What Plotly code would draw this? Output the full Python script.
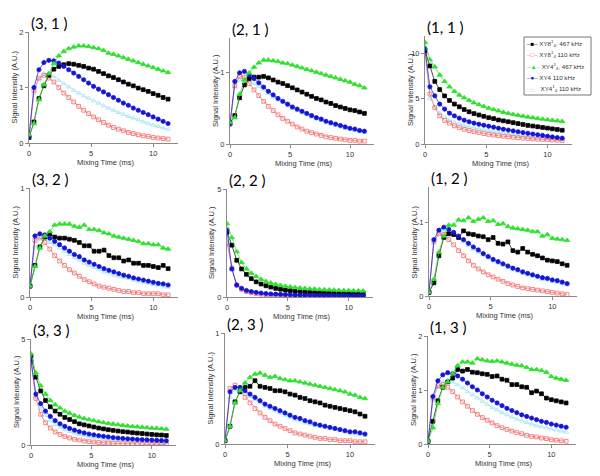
import plotly.graph_objects as go

# mixing time axis (ms)
mix_ms = [0, 0.4, 0.8, 1.2, 1.6, 2.0, 2.4, 2.8, 3.2, 3.6, 4.0, 4.4, 4.8, 5.2, 5.6,
          6.0, 6.4, 6.8, 7.2, 7.6, 8.0, 8.4, 8.8, 9.2, 9.6, 10.0, 10.4, 10.8, 11.2]

# panel (3,1)
k31 = [0.10, 0.38, 0.80, 1.03, 1.22, 1.33, 1.38, 1.41, 1.43, 1.42, 1.40, 1.38, 1.35, 1.33, 1.29, 1.25, 1.21, 1.18, 1.14, 1.10, 1.06, 1.03, 0.99, 0.96, 0.93, 0.89, 0.86, 0.82, 0.79]
r31 = [0.10, 0.95, 1.17, 1.22, 1.17, 1.10, 1.00, 0.90, 0.82, 0.74, 0.66, 0.59, 0.53, 0.47, 0.42, 0.37, 0.32, 0.28, 0.25, 0.22, 0.19, 0.17, 0.15, 0.13, 0.12, 0.10, 0.09, 0.08, 0.07]
g31 = [0.15, 0.35, 0.78, 1.05, 1.25, 1.43, 1.57, 1.65, 1.70, 1.73, 1.75, 1.75, 1.74, 1.72, 1.70, 1.67, 1.62, 1.60, 1.57, 1.54, 1.51, 1.48, 1.45, 1.42, 1.39, 1.36, 1.33, 1.30, 1.27]
b31 = [0.12, 1.00, 1.32, 1.45, 1.49, 1.48, 1.44, 1.38, 1.32, 1.26, 1.20, 1.14, 1.08, 1.02, 0.97, 0.92, 0.87, 0.82, 0.77, 0.72, 0.68, 0.63, 0.59, 0.55, 0.51, 0.47, 0.43, 0.39, 0.35]
c31 = [0.12, 0.90, 1.15, 1.25, 1.25, 1.20, 1.13, 1.07, 1.01, 0.95, 0.90, 0.85, 0.81, 0.76, 0.72, 0.67, 0.63, 0.59, 0.55, 0.52, 0.48, 0.45, 0.42, 0.38, 0.35, 0.32, 0.30, 0.27, 0.25]

# panel (2,1)
k21 = [0.30, 0.40, 0.65, 0.83, 0.92, 0.94, 0.94, 0.95, 0.93, 0.90, 0.87, 0.85, 0.82, 0.79, 0.76, 0.73, 0.70, 0.67, 0.64, 0.62, 0.59, 0.57, 0.54, 0.52, 0.50, 0.48, 0.47, 0.45, 0.43]
r21 = [0.28, 0.82, 0.95, 0.94, 0.85, 0.76, 0.68, 0.60, 0.53, 0.47, 0.41, 0.36, 0.32, 0.28, 0.24, 0.21, 0.18, 0.16, 0.14, 0.12, 0.10, 0.09, 0.08, 0.07, 0.06, 0.05, 0.05, 0.04, 0.04]
g21 = [0.30, 0.37, 0.70, 0.90, 1.00, 1.08, 1.14, 1.18, 1.18, 1.17, 1.16, 1.14, 1.13, 1.11, 1.09, 1.07, 1.05, 1.03, 1.01, 0.99, 0.97, 0.95, 0.93, 0.91, 0.89, 0.87, 0.84, 0.82, 0.79]
b21 = [0.28, 0.88, 1.00, 1.02, 0.97, 0.92, 0.86, 0.80, 0.74, 0.69, 0.64, 0.60, 0.56, 0.52, 0.49, 0.46, 0.43, 0.40, 0.37, 0.35, 0.32, 0.30, 0.28, 0.26, 0.24, 0.22, 0.21, 0.19, 0.18]
c21 = [0.28, 0.80, 0.90, 0.92, 0.89, 0.85, 0.81, 0.76, 0.71, 0.66, 0.62, 0.58, 0.54, 0.50, 0.47, 0.44, 0.41, 0.38, 0.35, 0.33, 0.30, 0.28, 0.26, 0.24, 0.22, 0.21, 0.19, 0.18, 0.16]

# panel (1,1)
k11 = [10.3, 8.6, 6.9, 6.0, 5.3, 4.8, 4.4, 4.1, 3.8, 3.55, 3.35, 3.2, 3.05, 2.9, 2.8, 2.65, 2.55, 2.45, 2.35, 2.25, 2.15, 2.05, 1.98, 1.9, 1.82, 1.75, 1.67, 1.6, 1.52]
r11 = [10.0, 5.5, 4.0, 3.1, 2.6, 2.3, 2.0, 1.8, 1.62, 1.48, 1.36, 1.25, 1.15, 1.06, 0.98, 0.91, 0.85, 0.79, 0.74, 0.69, 0.64, 0.6, 0.56, 0.53, 0.5, 0.47, 0.44, 0.41, 0.38]
g11 = [11.2, 9.3, 8.5, 7.6, 6.9, 6.3, 5.8, 5.4, 5.1, 4.8, 4.55, 4.35, 4.15, 3.95, 3.8, 3.65, 3.5, 3.38, 3.27, 3.17, 3.07, 2.98, 2.9, 2.82, 2.75, 2.68, 2.62, 2.56, 2.5]
b11 = [10.5, 6.3, 5.3, 4.4, 3.85, 3.4, 3.1, 2.85, 2.62, 2.45, 2.3, 2.18, 2.07, 1.96, 1.85, 1.74, 1.63, 1.53, 1.44, 1.35, 1.26, 1.18, 1.1, 1.02, 0.94, 0.86, 0.78, 0.71, 0.64]
c11 = [10.0, 5.0, 4.1, 3.4, 2.95, 2.65, 2.4, 2.2, 2.03, 1.9, 1.78, 1.67, 1.57, 1.47, 1.38, 1.29, 1.21, 1.13, 1.06, 0.99, 0.92, 0.86, 0.8, 0.75, 0.7, 0.65, 0.6, 0.55, 0.5]

# panel (3,2)
k32 = [0.10, 0.29, 0.46, 0.55, 0.58, 0.55, 0.54, 0.54, 0.53, 0.52, 0.50, 0.47, 0.47, 0.42, 0.42, 0.43, 0.38, 0.36, 0.36, 0.33, 0.34, 0.31, 0.31, 0.29, 0.29, 0.28, 0.27, 0.29, 0.26]
r32 = [0.10, 0.52, 0.55, 0.50, 0.44, 0.38, 0.33, 0.29, 0.25, 0.22, 0.19, 0.16, 0.14, 0.12, 0.10, 0.09, 0.08, 0.07, 0.06, 0.05, 0.05, 0.04, 0.04, 0.03, 0.03, 0.03, 0.03, 0.02, 0.02]
g32 = [0.10, 0.28, 0.45, 0.56, 0.60, 0.66, 0.67, 0.67, 0.67, 0.65, 0.64, 0.66, 0.62, 0.62, 0.61, 0.59, 0.58, 0.56, 0.55, 0.54, 0.53, 0.52, 0.51, 0.49, 0.49, 0.48, 0.48, 0.45, 0.44]
b32 = [0.10, 0.56, 0.58, 0.57, 0.54, 0.51, 0.48, 0.45, 0.42, 0.39, 0.37, 0.34, 0.32, 0.30, 0.28, 0.26, 0.245, 0.23, 0.215, 0.20, 0.19, 0.175, 0.165, 0.155, 0.145, 0.135, 0.125, 0.12, 0.11]
c32 = [0.10, 0.46, 0.53, 0.53, 0.50, 0.48, 0.45, 0.42, 0.39, 0.36, 0.34, 0.31, 0.29, 0.27, 0.25, 0.23, 0.22, 0.20, 0.19, 0.18, 0.17, 0.155, 0.145, 0.135, 0.125, 0.115, 0.11, 0.10, 0.09]

# panel (2,2)
k22 = [3.0, 2.4, 1.7, 1.3, 1.05, 0.85, 0.7, 0.6, 0.52, 0.46, 0.4, 0.36, 0.32, 0.29, 0.26, 0.24, 0.22, 0.21, 0.2, 0.19, 0.18, 0.18, 0.17, 0.17, 0.16, 0.16, 0.16, 0.15, 0.15]
r22 = [2.5, 1.35, 0.55, 0.35, 0.25, 0.2, 0.16, 0.13, 0.11, 0.09, 0.08, 0.07, 0.06, 0.05, 0.05, 0.04, 0.04, 0.04, 0.03, 0.03, 0.03, 0.03, 0.03, 0.03, 0.03, 0.03, 0.03, 0.03, 0.03]
g22 = [3.4, 2.75, 2.1, 1.6, 1.3, 1.1, 0.95, 0.82, 0.72, 0.65, 0.59, 0.54, 0.5, 0.47, 0.44, 0.42, 0.4, 0.38, 0.37, 0.35, 0.34, 0.33, 0.32, 0.31, 0.3, 0.3, 0.29, 0.29, 0.28]
b22 = [3.1, 1.3, 0.55, 0.4, 0.3, 0.25, 0.21, 0.18, 0.16, 0.14, 0.13, 0.12, 0.11, 0.1, 0.09, 0.09, 0.08, 0.08, 0.07, 0.07, 0.07, 0.06, 0.06, 0.06, 0.06, 0.05, 0.05, 0.05, 0.05]
c22 = [2.7, 1.25, 0.6, 0.42, 0.33, 0.27, 0.23, 0.2, 0.18, 0.16, 0.15, 0.14, 0.13, 0.12, 0.11, 0.11, 0.1, 0.1, 0.09, 0.09, 0.09, 0.09, 0.08, 0.08, 0.08, 0.08, 0.08, 0.08, 0.08]

# panel (1,2)
k12 = [0.05, 0.18, 0.55, 0.80, 0.85, 0.84, 0.80, 0.89, 0.85, 0.84, 0.82, 0.81, 0.77, 0.80, 0.72, 0.71, 0.74, 0.62, 0.60, 0.65, 0.60, 0.57, 0.55, 0.52, 0.49, 0.48, 0.47, 0.44, 0.42]
r12 = [0.05, 0.75, 0.85, 0.84, 0.77, 0.70, 0.62, 0.55, 0.48, 0.42, 0.37, 0.33, 0.29, 0.26, 0.23, 0.20, 0.17, 0.15, 0.13, 0.11, 0.10, 0.09, 0.08, 0.07, 0.06, 0.05, 0.04, 0.03, 0.02]
g12 = [0.05, 0.23, 0.60, 0.82, 0.97, 0.97, 1.04, 1.03, 1.07, 1.02, 1.05, 1.07, 1.02, 1.03, 0.98, 0.99, 0.95, 0.93, 0.92, 0.91, 0.90, 0.88, 0.88, 0.82, 0.84, 0.79, 0.78, 0.77, 0.76]
b12 = [0.05, 0.77, 0.90, 0.94, 0.91, 0.87, 0.82, 0.77, 0.72, 0.67, 0.63, 0.58, 0.54, 0.50, 0.47, 0.44, 0.41, 0.38, 0.36, 0.33, 0.31, 0.29, 0.27, 0.25, 0.24, 0.22, 0.21, 0.19, 0.17]
c12 = [0.05, 0.72, 0.86, 0.90, 0.88, 0.84, 0.79, 0.74, 0.69, 0.64, 0.60, 0.56, 0.52, 0.48, 0.45, 0.42, 0.39, 0.36, 0.34, 0.31, 0.29, 0.27, 0.25, 0.23, 0.22, 0.20, 0.19, 0.17, 0.15]

# panel (3,3)
k33 = [4.2, 3.2, 2.55, 2.1, 1.8, 1.6, 1.45, 1.3, 1.2, 1.1, 1.0, 0.95, 0.9, 0.85, 0.8, 0.76, 0.72, 0.69, 0.66, 0.63, 0.61, 0.58, 0.56, 0.54, 0.52, 0.5, 0.48, 0.47, 0.45]
r33 = [3.9, 2.2, 1.45, 1.05, 0.8, 0.62, 0.5, 0.4, 0.33, 0.27, 0.23, 0.19, 0.16, 0.14, 0.12, 0.1, 0.09, 0.08, 0.07, 0.06, 0.05, 0.05, 0.04, 0.04, 0.03, 0.03, 0.03, 0.03, 0.02]
g33 = [4.3, 3.4, 2.8, 2.4, 2.1, 1.9, 1.75, 1.6, 1.5, 1.4, 1.32, 1.25, 1.2, 1.15, 1.1, 1.06, 1.02, 0.99, 0.96, 0.93, 0.9, 0.88, 0.86, 0.84, 0.82, 0.8, 0.79, 0.77, 0.75]
b33 = [4.0, 2.4, 1.95, 1.6, 1.35, 1.15, 1.0, 0.88, 0.78, 0.7, 0.63, 0.57, 0.52, 0.48, 0.44, 0.41, 0.38, 0.35, 0.33, 0.31, 0.29, 0.28, 0.26, 0.25, 0.24, 0.23, 0.22, 0.21, 0.2]
c33 = [4.0, 2.3, 1.7, 1.4, 1.15, 0.97, 0.84, 0.73, 0.64, 0.56, 0.5, 0.45, 0.4, 0.36, 0.33, 0.3, 0.27, 0.25, 0.23, 0.21, 0.2, 0.18, 0.17, 0.16, 0.15, 0.14, 0.13, 0.13, 0.12]

# panel (2,3)
k23 = [0.03, 0.16, 0.38, 0.47, 0.51, 0.52, 0.57, 0.52, 0.51, 0.50, 0.48, 0.48, 0.47, 0.45, 0.44, 0.42, 0.41, 0.39, 0.38, 0.37, 0.35, 0.34, 0.33, 0.32, 0.31, 0.30, 0.29, 0.27, 0.25]
r23 = [0.03, 0.50, 0.53, 0.48, 0.42, 0.37, 0.32, 0.28, 0.24, 0.21, 0.18, 0.16, 0.14, 0.12, 0.10, 0.09, 0.08, 0.07, 0.06, 0.05, 0.05, 0.04, 0.04, 0.03, 0.03, 0.03, 0.02, 0.02, 0.02]
g23 = [0.03, 0.16, 0.37, 0.48, 0.55, 0.60, 0.63, 0.64, 0.62, 0.60, 0.61, 0.59, 0.58, 0.57, 0.57, 0.56, 0.55, 0.54, 0.53, 0.52, 0.51, 0.50, 0.49, 0.48, 0.47, 0.45, 0.44, 0.42, 0.41]
b23 = [0.03, 0.47, 0.51, 0.51, 0.48, 0.45, 0.42, 0.39, 0.36, 0.34, 0.32, 0.30, 0.28, 0.26, 0.24, 0.23, 0.21, 0.20, 0.18, 0.17, 0.16, 0.15, 0.14, 0.13, 0.12, 0.11, 0.11, 0.10, 0.09]
c23 = [0.03, 0.42, 0.49, 0.49, 0.46, 0.43, 0.40, 0.37, 0.34, 0.32, 0.30, 0.28, 0.26, 0.24, 0.22, 0.21, 0.19, 0.18, 0.17, 0.16, 0.15, 0.14, 0.13, 0.12, 0.11, 0.10, 0.09, 0.09, 0.08]

# panel (1,3)
k13 = [0.05, 0.42, 0.80, 1.05, 1.15, 1.22, 1.38, 1.35, 1.38, 1.33, 1.32, 1.30, 1.29, 1.25, 1.26, 1.20, 1.18, 1.10, 1.10, 1.06, 1.05, 0.95, 0.98, 0.93, 0.85, 0.82, 0.80, 0.78, 0.76]
r13 = [0.05, 0.85, 1.08, 1.10, 1.05, 0.97, 0.87, 0.78, 0.70, 0.62, 0.55, 0.49, 0.44, 0.39, 0.34, 0.30, 0.27, 0.24, 0.21, 0.19, 0.16, 0.14, 0.13, 0.11, 0.10, 0.08, 0.07, 0.06, 0.05]
g13 = [0.05, 0.30, 0.75, 1.05, 1.15, 1.30, 1.45, 1.52, 1.52, 1.50, 1.58, 1.56, 1.54, 1.53, 1.54, 1.52, 1.50, 1.48, 1.46, 1.45, 1.42, 1.38, 1.38, 1.36, 1.33, 1.25, 1.22, 1.20, 1.18]
b13 = [0.05, 0.88, 1.17, 1.28, 1.32, 1.30, 1.26, 1.20, 1.13, 1.06, 1.00, 0.93, 0.87, 0.81, 0.76, 0.71, 0.66, 0.62, 0.58, 0.54, 0.51, 0.48, 0.45, 0.42, 0.40, 0.37, 0.35, 0.33, 0.31]
c13 = [0.05, 0.80, 1.05, 1.15, 1.18, 1.15, 1.10, 1.04, 0.97, 0.91, 0.85, 0.79, 0.73, 0.68, 0.63, 0.58, 0.54, 0.50, 0.46, 0.43, 0.40, 0.37, 0.34, 0.32, 0.30, 0.28, 0.26, 0.24, 0.22]

W, H = 600, 476
FONT = "Liberation Sans, Arial, sans-serif"

# series styles: (legend label, colour, symbol, size, legend glyph)
series = [
    ("XY8<sup>1</sup><sub>4</sub>, 467 kHz", "#000000", "square", 3.8, "■"),
    ("XY8<sup>1</sup><sub>4</sub> 110 kHz", "#f26b6b", "square-open", 3.8, "□"),
    ("XY4<sup>1</sup><sub>4</sub>, 467 kHz", "#2fe02f", "triangle-up", 4.8, "▲"),
    ("XY4 110 kHz", "#1414d8", "circle", 4.2, "●"),
    ("XY4<sup>1</sup><sub>4</sub> 110 kHz", "#9fe4f4", "triangle-up-open", 4.2, "△"),
]
draw_order = [4, 1, 0, 3, 2]

# panel title, series, x px span, y px span (top, bottom), y max, y tick step
panels = [
    ("(3, 1 )", [k31, r31, g31, b31, c31], (29, 178), (32, 143), 2.0, 1),
    ("(2, 1 )", [k21, r21, g21, b21, c21], (230, 374), (38, 144), 1.49, 1),
    ("(1, 1 )", [k11, r11, g11, b11, c11], (425, 572), (36, 144), 11.9, 5),
    ("(3, 2 )", [k32, r32, g32, b32, c32], (30, 178), (188, 297), 1.0, 1),
    ("(2, 2 )", [k22, r22, g22, b22, c22], (227, 373), (189, 297), 5.0, 5),
    ("(1, 2 )", [k12, r12, g12, b12, c12], (429, 577), (187, 296), 1.49, 1),
    ("(3, 3 )", [k33, r33, g33, b33, c33], (31, 176), (339, 445), 5.0, 5),
    ("(2, 3 )", [k23, r23, g23, b23, c23], (225, 375), (333, 444), 1.0, 1),
    ("(1, 3 )", [k13, r13, g13, b13, c13], (428, 576), (336, 444), 2.0, 1),
]

fig = go.Figure()
annotations = []
axis_style = dict(showline=True, linecolor="#8a8a8a", linewidth=1, ticks="outside",
                  ticklen=3, tickcolor="#8a8a8a", showgrid=False, zeroline=False,
                  automargin=False,
                  tickfont=dict(family=FONT, size=7.5, color="#333333"))

for i, (title, data, (x0, x1), (y0, y1), ymax, ystep) in enumerate(panels):
    n = "" if i == 0 else str(i + 1)
    for j in draw_order:
        label, color, symbol, size, _ = series[j]
        fig.add_trace(go.Scatter(
            x=mix_ms, y=data[j], mode="lines+markers", showlegend=False,
            xaxis="x" + n, yaxis="y" + n,
            line=dict(color=color, width=0.7),
            marker=dict(symbol=symbol, size=size, color=color,
                        line=dict(color=color, width=0.8)),
        ))
    fig.update_layout({
        "xaxis" + n: dict(domain=[x0 / W, x1 / W], range=[0, 12], anchor="y" + n,
                          tickvals=[0, 5, 10], **axis_style),
        "yaxis" + n: dict(domain=[1 - y1 / H, 1 - y0 / H], range=[0, ymax], anchor="x" + n,
                          dtick=ystep, **axis_style),
    })
    annotations.append(dict(text=title, x=x0 / W, y=1 - (y0 - 9) / H, xref="paper", yref="paper",
                            xanchor="left", yanchor="middle", showarrow=False,
                            font=dict(family="Lato, Open Sans, sans-serif", size=15, color="#000")))
    annotations.append(dict(text="Signal Intensity (A.U.)", textangle=-90,
                            x=(x0 - 15) / W, y=1 - (y0 + y1) / 2 / H, xref="paper", yref="paper",
                            xanchor="center", yanchor="middle", showarrow=False,
                            font=dict(family=FONT, size=7.5, color="#333333")))
    annotations.append(dict(text="Mixing Time (ms)", x=(x0 + 6.2 * (x1 - x0) / 12) / W,
                            y=1 - (y1 + 19.5) / H, xref="paper", yref="paper",
                            xanchor="center", yanchor="middle", showarrow=False,
                            font=dict(family=FONT, size=7.5, color="#333333")))

# legend box in panel (1,1)
lx0, ly0, lx1, ly1 = 524, 37, 591, 95
for k, (label, color, symbol, size, glyph) in enumerate(series):
    yc = ly0 + 6.5 + k * 11.3
    annotations.append(dict(
        text=f"<span style='color:{color}'>–{glyph}–</span> {label}",
        x=(lx0 + 1) / W, y=1 - yc / H, xref="paper", yref="paper",
        xanchor="left", yanchor="middle", showarrow=False,
        font=dict(family=FONT, size=6.2, color="#333333")))

fig.update_layout(
    width=W, height=H, margin=dict(l=0, r=0, t=0, b=0),
    paper_bgcolor="white", plot_bgcolor="white", showlegend=False,
    annotations=annotations,
    shapes=[dict(type="rect", xref="paper", yref="paper", x0=lx0 / W, x1=lx1 / W,
                 y0=1 - ly1 / H, y1=1 - ly0 / H, line=dict(color="#777777", width=1),
                 fillcolor="rgba(255,255,255,0)", layer="above")],
)

fig.write_html("out.html", config={"displayModeBar": False},
               post_script="document.body.style.margin='0';")
